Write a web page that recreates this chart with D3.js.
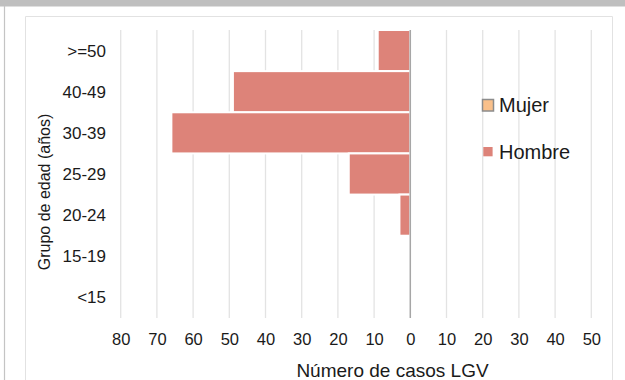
<!DOCTYPE html>
<html><head><meta charset="utf-8">
<script src="https://cdn.jsdelivr.net/npm/d3@7"></script>
<style>
html,body{margin:0;padding:0;background:#fff;}
svg{display:block;font-family:"Liberation Sans",Arial,sans-serif;}
</style></head>
<body><svg id="c" width="625" height="380"></svg>
<script>
const categories = [">=50","40-49","30-39","25-29","20-24","15-19","<15"];
const hombre = [9,49,66,17,3,0,0];
const mujer = [0,0,0,0,0,0,0];
const xTicks = [-80,-70,-60,-50,-40,-30,-20,-10,0,10,20,30,40,50];
const seriesNames = ["Mujer","Hombre"];
const seriesColors = ["#f9c08b","#dd8379"];

const svg = d3.select("#c");
// frame
svg.append("rect").attr("x",0).attr("y",0).attr("width",625).attr("height",6.5).attr("fill","#bfbfbf");
svg.append("line").attr("x1",4.5).attr("x2",4.5).attr("y1",6).attr("y2",380).attr("stroke","#c4c4c4").attr("stroke-width",1.2);
svg.append("path").attr("d","M25.5,380V16.5H612.5V380").attr("fill","none").attr("stroke","#e2e2e2").attr("stroke-width",1);

const x = d3.scaleLinear().domain([-80,50]).range([120.7,591.3]);
const y = d3.scaleBand().domain(categories).range([30,318]).padding(0);

// gridlines
svg.append("g").selectAll("line").data(xTicks.filter(d=>d!==0)).join("line")
  .attr("x1",d=>x(d)).attr("x2",d=>x(d)).attr("y1",30).attr("y2",318)
  .attr("stroke","#e3e3e3").attr("stroke-width",1.3);

// bars
const g = svg.append("g");
g.selectAll("rect.h").data(categories).join("rect").attr("class","h")
  .attr("x",(d,i)=>x(-hombre[i])).attr("width",(d,i)=>x(0)-x(-hombre[i]))
  .attr("y",d=>y(d)).attr("height",y.bandwidth())
  .attr("fill",seriesColors[1]).attr("stroke","#fff").attr("stroke-width",2);
g.selectAll("rect.m").data(categories).join("rect").attr("class","m")
  .attr("x",x(0)).attr("width",(d,i)=>x(mujer[i])-x(0))
  .attr("y",d=>y(d)).attr("height",y.bandwidth())
  .attr("fill",seriesColors[0]);

// zero axis line
svg.append("line").attr("x1",x(0)).attr("x2",x(0)).attr("y1",30).attr("y2",318)
  .attr("stroke","#a6a6a6").attr("stroke-width",1.5);

// x axis labels
const xa = svg.append("g").attr("transform","translate(0,318)")
  .call(d3.axisBottom(x).tickValues(xTicks).tickFormat(d=>Math.abs(d)).tickSize(0).tickPadding(0));
xa.select(".domain").remove();
xa.selectAll("text").attr("y",27).attr("dy",0).attr("font-size",16.5).attr("fill","#1a1a1a")
  .attr("font-family","Liberation Sans, Arial, sans-serif");

// y axis labels
const ya = svg.append("g").attr("transform","translate(106,0)")
  .call(d3.axisLeft(y).tickSize(0).tickPadding(0));
ya.select(".domain").remove();
ya.selectAll("text").attr("font-size",17).attr("fill","#1a1a1a").attr("dy","0.35em")
  .attr("font-family","Liberation Sans, Arial, sans-serif");

// titles
svg.append("text").attr("x",392.5).attr("y",376.5).attr("text-anchor","middle")
  .attr("font-size",19).attr("fill","#1a1a1a").text("Número de casos LGV");
svg.append("text").attr("transform","translate(50,192) rotate(-90)").attr("text-anchor","middle")
  .attr("font-size",16).attr("fill","#1a1a1a").text("Grupo de edad (años)");

// legend
const lg = svg.append("g");
const li = lg.selectAll("g").data(seriesNames).join("g")
  .attr("transform",(d,i)=>`translate(0,${i*47})`);
li.append("rect").attr("x",(d,i)=>i===0?482.5:483.3).attr("y",(d,i)=>i===0?99.5:0+147-47)
  .attr("width",(d,i)=>i===0?11:9.3).attr("height",(d,i)=>i===0?11.5:9.3)
  .attr("fill",(d,i)=>seriesColors[i])
  .attr("stroke",(d,i)=>i===0?"#8c8c8c":"none").attr("stroke-width",1.5);
li.append("text").attr("x",499).attr("y",(d,i)=>i===0?111.7:159-47)
  .attr("font-size",20).attr("fill","#1a1a1a").text(d=>d);
</script></body></html>
